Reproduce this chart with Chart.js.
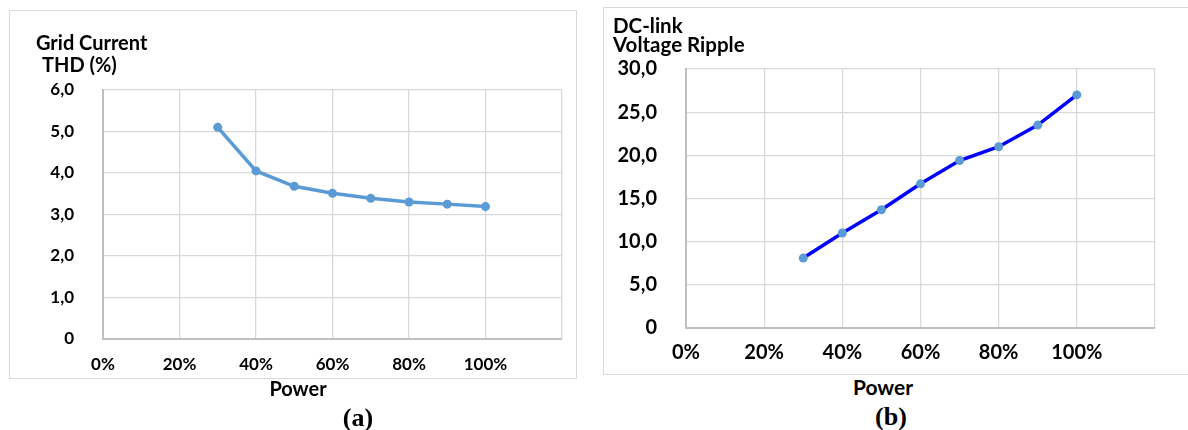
<!DOCTYPE html>
<html>
<head>
<meta charset="utf-8">
<script src="https://cdn.jsdelivr.net/npm/chart.js@4"></script>
<style>
  body { margin: 0; background: #fff; width: 1188px; height: 430px; overflow: hidden; position: relative; font-family: Lato, sans-serif; }
  .frame { position: absolute; border: 1px solid #d9d9d9; box-sizing: border-box; }
  canvas { position: absolute; }
  .txt { position: absolute; font-weight: bold; color: #000; white-space: nowrap; line-height: 1.2; }
  .cap { position: absolute; font-family: "Liberation Serif", serif; font-weight: bold; font-size: 26px; line-height: 1.2; width: 100px; text-align: center; }
</style>
</head>
<body>
<div class="frame" style="left:9px;top:10px;width:568px;height:369px"></div>
<div class="frame" style="left:603px;top:7px;width:620px;height:368px"></div>
<canvas id="thd-chart" width="568" height="369" style="left:9px;top:10px"></canvas>
<canvas id="ripple-chart" width="590" height="367" style="left:603px;top:7px"></canvas>

<div class="txt" style="left:36px;top:30px;font-size:20px">Grid Current</div>
<div class="txt" style="left:42px;top:52px;font-size:20px">THD (%)</div>
<div class="txt" style="left:198px;top:376px;width:200px;text-align:center;font-size:20px">Power</div>
<div class="cap" style="left:308px;top:402px">(a)</div>

<div class="txt" style="left:613px;top:13px;font-size:20.5px">DC-link</div>
<div class="txt" style="left:613px;top:32px;font-size:20.5px">Voltage Ripple</div>
<div class="txt" style="left:783px;top:374px;width:200px;text-align:center;font-size:21px">Power</div>
<div class="cap" style="left:841px;top:401px">(b)</div>

<script>
const powerLevels = [0.3, 0.4, 0.5, 0.6, 0.7, 0.8, 0.9, 1.0];
const thdValues = [5.1, 4.05, 3.68, 3.51, 3.39, 3.30, 3.25, 3.19];
const rippleValues = [8.1, 11.0, 13.7, 16.7, 19.4, 21.0, 23.5, 27.0];
const powerTickLabels = ['0%', '20%', '40%', '60%', '80%', '100%', ''];
const thdTickLabels = ['0', '1,0', '2,0', '3,0', '4,0', '5,0', '6,0'];
const rippleTickLabels = ['0', '5,0', '10,0', '15,0', '20,0', '25,0', '30,0'];

const gridColor = '#d9d9d9';
const axisColor = '#bfbfbf';

const makeChart = (id, values, yLabels, yMax, yStep, cfg) => {
  const points = powerLevels.map((p, i) => ({ x: p, y: values[i] }));
  const canvas = document.getElementById(id).getContext('2d');
  return new Chart(canvas, {
    type: 'line',
    data: {
      datasets: [{
        data: points,
        borderColor: cfg.lineColor,
        borderWidth: cfg.lineWidth,
        backgroundColor: '#5b9bd5',
        pointBackgroundColor: '#5b9bd5',
        pointBorderColor: '#5b9bd5',
        pointRadius: cfg.pointRadius,
        pointBorderWidth: 0,
        tension: 0
      }]
    },
    options: {
      responsive: false,
      animation: false,
      events: [],
      layout: { padding: { top: cfg.top, right: cfg.right, left: 0, bottom: 0 } },
      plugins: { legend: { display: false }, tooltip: { enabled: false } },
      scales: {
        x: {
          type: 'linear',
          min: 0, max: 1.2,
          afterFit: (s) => { s.height = cfg.xHeight },
          ticks: {
            stepSize: 0.2,
            padding: cfg.xPad,
            color: '#000',
            font: { family: 'Lato', weight: 'bold', size: cfg.tickSize },
            maxRotation: 0,
            callback: (v, i) => powerTickLabels[i]
          },
          grid: { color: gridColor, lineWidth: 1.3, drawTicks: false },
          border: { color: axisColor, width: 2 }
        },
        y: {
          min: 0, max: yMax,
          afterFit: (s) => { s.width = cfg.yWidth },
          ticks: {
            stepSize: yStep,
            padding: cfg.yPad,
            color: '#000',
            font: { family: 'Lato', weight: 'bold', size: cfg.tickSize },
            callback: (v, i) => yLabels[i]
          },
          grid: { color: gridColor, lineWidth: 1.3, drawTicks: false },
          border: { color: axisColor, width: 2 }
        }
      }
    }
  });
};

makeChart('thd-chart', thdValues, thdTickLabels, 6, 1, {
  lineColor: '#5b9bd5', lineWidth: 3.5, pointRadius: 4.5,
  top: 80, right: 13, xHeight: 40, yWidth: 94, xPad: 15, yPad: 29, tickSize: 17
});

makeChart('ripple-chart', rippleValues, rippleTickLabels, 30, 5, {
  lineColor: '#0000ff', lineWidth: 3.5, pointRadius: 4.5,
  top: 62, right: 38, xHeight: 46, yWidth: 83, xPad: 13, yPad: 29, tickSize: 20
});
</script>
</body>
</html>
